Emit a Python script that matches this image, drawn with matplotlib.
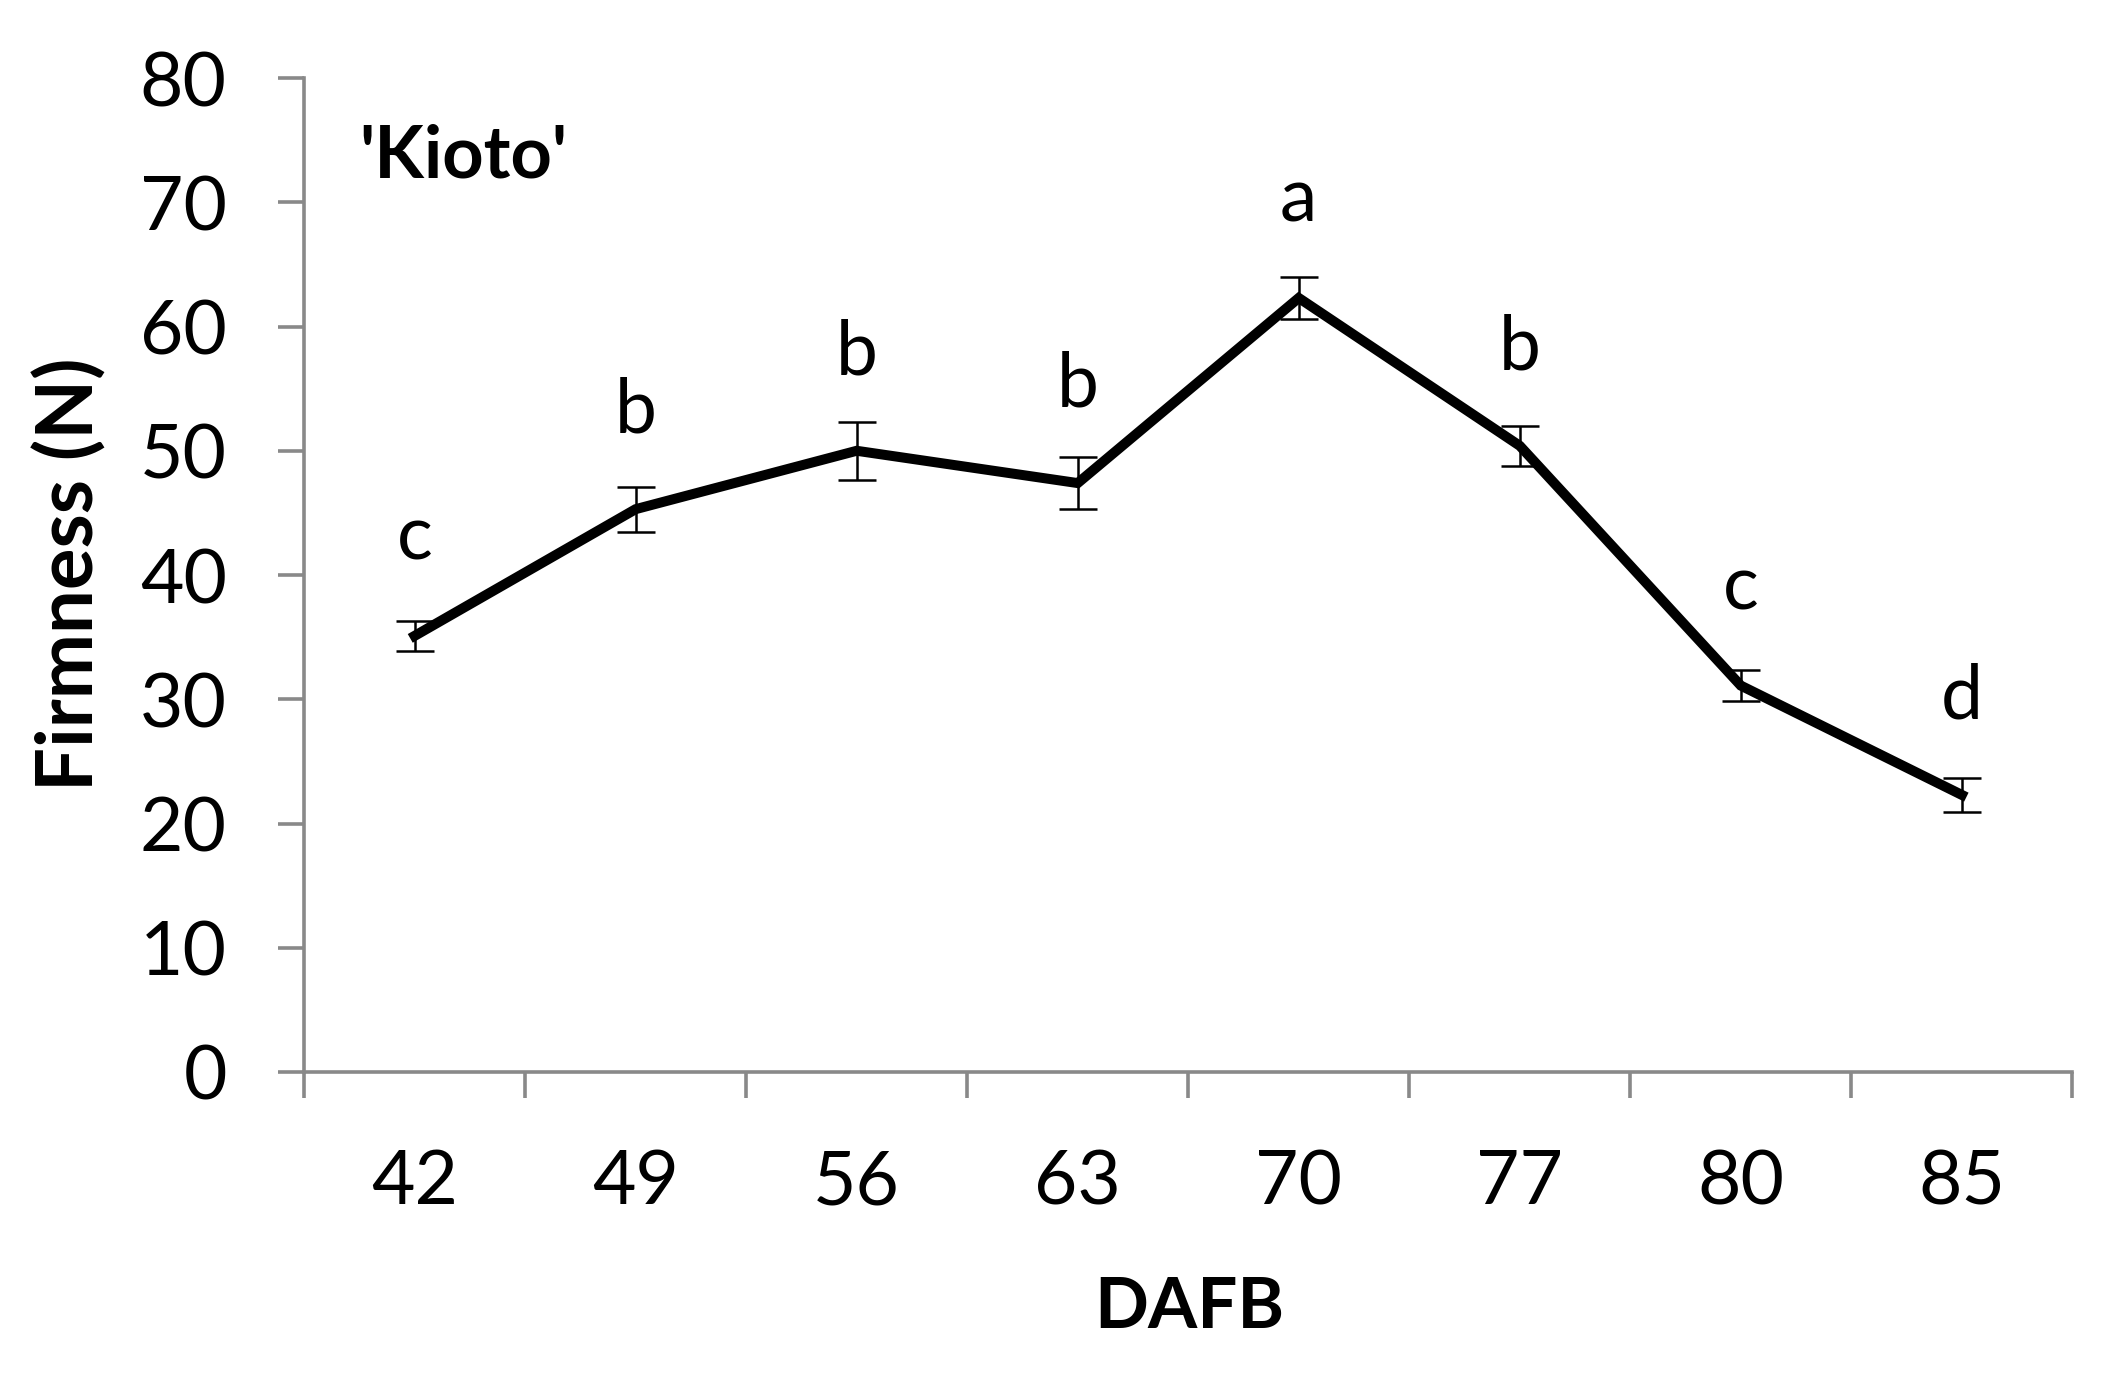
import numpy as np
import matplotlib.pyplot as plt

# days after full bloom and fruit firmness of 'Kioto'
dafb = ["42", "49", "56", "63", "70", "77", "80", "85"]
firmness = [35.1, 45.3, 50.0, 47.4, 62.3, 50.4, 31.1, 22.3]
firmness_err = [1.2, 1.8, 2.35, 2.1, 1.7, 1.6, 1.25, 1.4]
letters = ["c", "b", "b", "b", "a", "b", "c", "d"]

plt.rcParams["font.family"] = ["Lato", "DejaVu Sans"]
axis_grey = "#898989"

fig = plt.figure(figsize=(21.19, 13.74), dpi=100)
ax = fig.add_axes([0.1435, 0.2198, 0.8345, 0.7234])

x = np.arange(len(dafb))
ax.errorbar(x, firmness, yerr=firmness_err, color="black", lw=7.2,
            elinewidth=1.8, capsize=13.7, capthick=1.8,
            solid_joinstyle="miter", zorder=3)

for xi, yi, lab in zip(x, firmness, letters):
    ax.annotate(lab, (xi, yi), xytext=(0, 55), textcoords="offset points",
                ha="center", va="baseline", fontsize=54)

ax.text(0.031, 0.9004, "'Kioto'", transform=ax.transAxes, fontsize=52,
        fontweight="bold", va="baseline", ha="left")

ax.set_xlim(-0.5, len(dafb) - 0.5)
ax.set_ylim(0, 80)
ax.set_yticks(np.arange(0, 81, 10))
ax.set_xticks(np.arange(-0.5, len(dafb), 1.0))
ax.set_xticklabels([])
ax.set_xticks(x, minor=True)
ax.set_xticklabels(dafb, minor=True)

for side in ["top", "right"]:
    ax.spines[side].set_visible(False)
for side in ["left", "bottom"]:
    ax.spines[side].set_color(axis_grey)
    ax.spines[side].set_linewidth(2.6)

ax.tick_params(axis="both", which="major", color=axis_grey, width=2.6,
               length=18.6, direction="out", labelsize=54)
ax.tick_params(axis="y", which="major", pad=37)
ax.tick_params(axis="x", which="minor", length=0, pad=55, labelsize=54)

ax.set_ylabel("Firmness (N)", fontsize=56, fontweight="bold")
ax.set_xlabel("DAFB", fontsize=51, fontweight="bold")
ax.yaxis.label.set_va("center")
ax.xaxis.label.set_va("center")
ax.yaxis.set_label_coords(-0.132, 0.501)
ax.xaxis.set_label_coords(0.5006, -0.237)

fig.savefig("out.png", dpi=100)
